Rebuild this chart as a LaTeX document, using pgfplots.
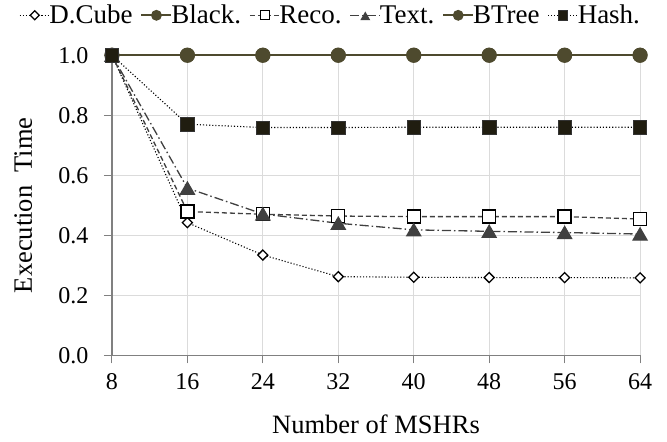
\documentclass[border=0pt]{standalone}
\usepackage{fontspec}
\setmainfont{Liberation Serif}
\usepackage{pgfplots}
\pgfplotsset{compat=1.18}
\definecolor{olive}{HTML}{4E4A2E}
\definecolor{hashc}{HTML}{201D10}
\definecolor{txtc}{HTML}{404040}
\definecolor{axc}{HTML}{808080}
\begin{document}
\begin{tikzpicture}
\begin{axis}[
  scale only axis,
  width=528pt, height=300pt,
  xmin=8, xmax=64, ymin=0, ymax=1.0,
  xtick={8,16,24,32,40,48,56,64},
  ytick={0,0.2,0.4,0.6,0.8,1.0},
  /pgf/number format/assume math mode=true,
  tick label style={font=\fontsize{24}{28}\selectfont},
  yticklabel style={xshift=-12pt, /pgf/number format/fixed, /pgf/number format/fixed zerofill, /pgf/number format/precision=1},
  xticklabel style={yshift=-7pt},
  axis x line*=bottom, axis y line*=left,
  axis line style={axc, line width=1.2pt},
  tick style={axc, line width=1pt},
  tick align=outside,
  major tick length=8pt,
  grid=major,
  grid style={gray!28, line width=0.8pt},
  xlabel={Number of MSHRs},
  ylabel={Execution\ \ Time},
  label style={font=\fontsize{26.5}{30}\selectfont},
  xlabel style={at={(axis description cs:0.5,-0.26)}, anchor=base},
  ylabel style={at={(axis description cs:-0.1515,0.5)}, anchor=base},
  clip=false,
  legend columns=6,
  legend style={draw=none, fill=none, at={(0.414,1.133)}, anchor=center,
    font=\fontsize{27}{30}\selectfont,
    /tikz/every even column/.append style={column sep=6pt},
    /tikz/every odd column/.append style={column sep=-3pt}},
  legend image code/.code={\draw[mark repeat=2,mark phase=2,#1] plot coordinates {(0pt,0pt)(15pt,0pt)(30pt,0pt)};},
  legend image post style={mark size=4.5pt},
]
\path (rel axis cs:-0.212,-0.287) rectangle (rel axis cs:1.051,1.184);
\addplot[black, dotted, line width=1.1pt, mark=diamond*, mark options={solid, fill=white, draw=black, line width=1.3pt, xscale=1.33}, mark size=5pt]
 coordinates {(8,1.0)(16,0.442)(24,0.334)(32,0.262)(40,0.26)(48,0.259)(56,0.259)(64,0.258)};
\addlegendentry{D.Cube}
\addplot[olive, solid, line width=1.8pt, mark=*, mark options={solid, fill=olive, draw=olive}, mark size=6.5pt]
 coordinates {(8,1.0)(16,1.0)(24,1.0)(32,1.0)(40,1.0)(48,1.0)(56,1.0)(64,1.0)};
\addlegendentry{Black.}
\addplot[txtc, dash pattern=on 5pt off 3pt, line width=1.3pt, mark=square*, mark options={solid, fill=white, draw=black, line width=1.3pt}, mark size=6.5pt]
 coordinates {(8,1.0)(16,0.479)(24,0.47)(32,0.464)(40,0.462)(48,0.462)(56,0.462)(64,0.454)};
\addlegendentry{Reco.}
\addplot[txtc, dash pattern=on 9pt off 3pt on 1.5pt off 3pt, line width=1.3pt, mark=triangle*, mark options={solid, fill=txtc, draw=txtc, yshift=-2pt}, mark size=8pt]
 coordinates {(8,1.0)(16,0.557)(24,0.471)(32,0.44)(40,0.418)(48,0.413)(56,0.409)(64,0.404)};
\addlegendentry{Text.}
\addplot[olive, solid, line width=1.8pt, mark=*, mark options={solid, fill=olive, draw=olive}, mark size=6.7pt]
 coordinates {(8,1.0)(16,1.0)(24,1.0)(32,1.0)(40,1.0)(48,1.0)(56,1.0)(64,1.0)};
\addlegendentry{BTree}
\addplot[black, dotted, line width=1.1pt, mark=square*, mark options={solid, fill=hashc, draw=black!80, line width=0.6pt}, mark size=6.7pt]
 coordinates {(8,1.0)(16,0.77)(24,0.759)(32,0.759)(40,0.76)(48,0.76)(56,0.76)(64,0.76)};
\addlegendentry{Hash.}
\end{axis}
\end{tikzpicture}
\end{document}
